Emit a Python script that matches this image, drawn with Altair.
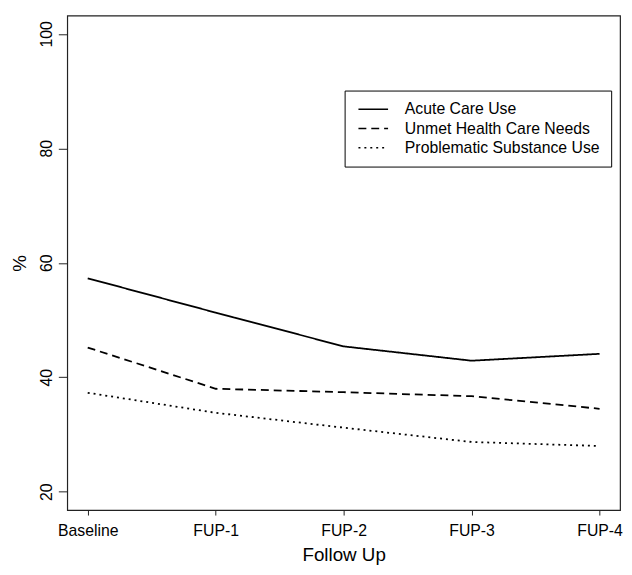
import altair as alt
import pandas as pd

follow_up = ["Baseline", "FUP-1", "FUP-2", "FUP-3", "FUP-4"]
series_names = ["Acute Care Use", "Unmet Health Care Needs", "Problematic Substance Use"]
acute = [57.3, 51.3, 45.4, 42.9, 44.1]
unmet = [45.2, 38.0, 37.4, 36.7, 34.5]
substance = [37.3, 33.8, 31.2, 28.7, 28.0]
y_ticks = [20, 40, 60, 80, 100]

rows = []
for name, vals in zip(series_names, [acute, unmet, substance]):
    for fu, v in zip(follow_up, vals):
        rows.append({"Follow Up": fu, "Series": name, "Value": v})
df = pd.DataFrame(rows)

FONT = "Liberation Sans"

chart = alt.Chart(df).mark_line(color="black", strokeWidth=1.8, strokeCap="butt").encode(
    x=alt.X("Follow Up:N", sort=follow_up,
            scale=alt.Scale(type="point", padding=0.16),
            axis=alt.Axis(title="Follow Up", labelAngle=0, tickSize=5, labelPadding=8,
                          titlePadding=7, domain=False, grid=False)),
    y=alt.Y("Value:Q", scale=alt.Scale(domain=[16.8, 103.2], nice=False, zero=False),
            axis=alt.Axis(title="%", values=y_ticks, tickSize=9, labelAngle=270,
                          labelAlign="center", labelBaseline="bottom", labelPadding=4,
                          titlePadding=9, domain=False, grid=False)),
    strokeDash=alt.StrokeDash("Series:N", sort=series_names,
                              scale=alt.Scale(domain=series_names,
                                              range=[[1, 0], [8, 5], [2, 4]]),
                              legend=alt.Legend(title=None, orient="none", legendX=281, legendY=76,
                                                symbolType="M-1,0H5", symbolSize=100,
                                                symbolStrokeColor="black", symbolStrokeWidth=1.5,
                                                labelOffset=34, rowPadding=3.5, padding=11,
                                                strokeColor="black", fillColor="white",
                                                labelFontSize=16, labelFont=FONT, labelLimit=0,
                                                labelColor="black", cornerRadius=0)),
    detail="Series:N",
).properties(
    width=560, height=501,
    autosize=alt.AutoSizeParams(type="none"),
    padding={"left": 60, "top": 4, "right": 4, "bottom": 54},
).configure_view(
    stroke="#222", strokeWidth=1.2
).configure_axis(
    labelFont=FONT, titleFont=FONT, labelFontSize=16, titleFontSize=19,
    labelColor="black", titleColor="black", tickColor="#222", titleFontWeight="normal"
)

chart.save("out.html", embed_options={"renderer": "svg", "actions": False})
